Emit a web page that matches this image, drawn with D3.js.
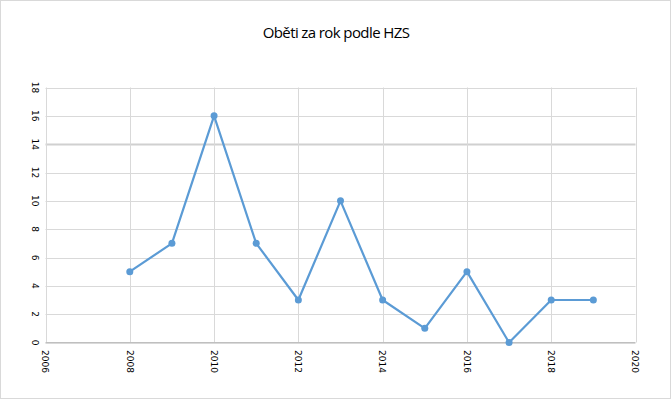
<!DOCTYPE html>
<html><head><meta charset="utf-8">
<script src="https://cdn.jsdelivr.net/npm/d3@7"></script>
<style>body{margin:0;background:#fff;}</style>
</head><body>
<script>
const years = [2008,2009,2010,2011,2012,2013,2014,2015,2016,2017,2018,2019];
const victims = [5,7,16,7,3,10,3,1,5,0,3,3];
const xTicks = [2006,2008,2010,2012,2014,2016,2018,2020];
const yTicks = [0,2,4,6,8,10,12,14,16,18];
const title = "Oběti za rok podle HZS";

const W=672,H=400;
const svg=d3.select("body").append("svg").attr("width",W).attr("height",H);
svg.append("rect").attr("x",0.5).attr("y",0.5).attr("width",670).attr("height",398)
  .attr("fill","#fff").attr("stroke","#d9d9d9");
const L=45.5,R=635.5,T=87.5,B=342.5;
const x=d3.scaleLinear().domain([2006,2020]).range([L,R]);
const y=d3.scaleLinear().domain([0,18]).range([B,T]);

svg.append("text").attr("x",336).attr("y",38).attr("text-anchor","middle")
  .attr("font-family","Open Sans, sans-serif").attr("font-size",15).attr("letter-spacing","-0.6")
  .attr("fill","#000").text(title);

const g=svg.append("g");
g.selectAll("line.h").data(yTicks).join("line")
  .attr("x1",L).attr("x2",R).attr("y1",d=>Math.round(y(d))+0.5).attr("y2",d=>Math.round(y(d))+0.5)
  .attr("stroke",d=>d===14?"#d0d0d0":"#d9d9d9").attr("stroke-width",d=>d===14?2:1);
g.selectAll("line.v").data(xTicks).join("line")
  .attr("x1",d=>Math.round(x(d))+0.5).attr("x2",d=>Math.round(x(d))+0.5).attr("y1",T).attr("y2",B)
  .attr("stroke","#d9d9d9");
g.append("line").attr("x1",L).attr("x2",R).attr("y1",B).attr("y2",B).attr("stroke","#bfbfbf");

// axis labels rotated
svg.selectAll("text.yl").data(yTicks).join("text")
  .attr("transform",d=>`translate(${35},${y(d)}) rotate(90)`)
  .attr("text-anchor","middle").attr("dy","0.35em")
  .attr("font-family","DejaVu Sans, sans-serif").attr("font-size",9).attr("fill","#000")
  .text(d=>d);
svg.selectAll("text.xl").data(xTicks).join("text")
  .attr("transform",d=>`translate(${x(d)},${350}) rotate(90)`)
  .attr("text-anchor","start").attr("dy","0.35em")
  .attr("font-family","DejaVu Sans, sans-serif").attr("font-size",9).attr("fill","#000")
  .text(d=>d);

const pts=years.map((yr,i)=>[yr,victims[i]]);
svg.append("path").datum(pts)
  .attr("d",d3.line().x(d=>x(d[0])).y(d=>y(d[1])))
  .attr("fill","none").attr("stroke","#5b9bd5").attr("stroke-width",2.2).attr("stroke-linejoin","round");
svg.selectAll("circle").data(pts).join("circle")
  .attr("cx",d=>x(d[0])).attr("cy",d=>y(d[1])).attr("r",3.5).attr("fill","#5b9bd5");
</script>
</body></html>
